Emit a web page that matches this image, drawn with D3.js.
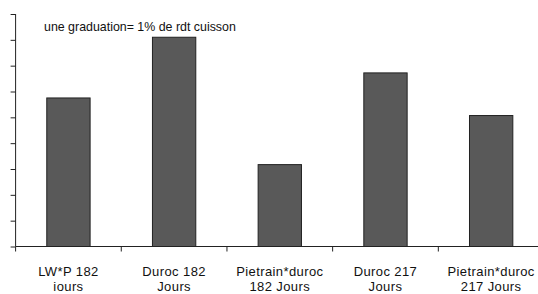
<!DOCTYPE html>
<meta charset="utf-8">
<style>
  body { margin: 0; background: #fff; }
  text { font-family: "Liberation Sans", Arial, sans-serif; fill: #111; }
</style>
<div id="chart"></div>
<script src="https://d3js.org/d3.v7.min.js"></script>
<script>
// bar labels (two lines each) and values
var labelsTop = ["LW*P 182", "Duroc 182", "Pietrain*duroc", "Duroc 217", "Pietrain*duroc"];
var labelsBottom = ["iours", "Jours", "182 Jours", "Jours", "217 Jours"];
var values = [5.75, 8.1, 3.17, 6.72, 5.07];
var yTicks = [0, 1, 2, 3, 4, 5, 6, 7, 8, 9];
var note = "une graduation= 1% de rdt cuisson";

var W = 538, H = 294;
var x0 = 15.6, xEnd = 544, y0 = 246.5, yTop = 14;

var svg = d3.select("#chart").append("svg")
  .attr("width", W)
  .attr("height", H);

var x = d3.scaleBand()
  .domain(d3.range(values.length))
  .range([x0, xEnd])
  .paddingInner(0.59)
  .paddingOuter(0.295);

var y = d3.scaleLinear()
  .domain([0, 9])
  .range([y0, yTop]);

// bars
svg.selectAll("rect.bar")
  .data(values)
  .enter()
  .append("rect")
    .attr("class", "bar")
    .attr("x", function(d, i) { return x(i); })
    .attr("y", function(d) { return y(d); })
    .attr("width", x.bandwidth())
    .attr("height", function(d) { return y0 - y(d); })
    .style("fill", "#595959")
    .style("stroke", "#222")
    .style("stroke-width", 1);

// y axis, ticks only
var yAxis = svg.append("g")
  .attr("transform", "translate(" + x0 + ",0)")
  .call(d3.axisLeft(y).tickValues(yTicks).tickSize(5).tickFormat(""));
yAxis.select(".domain").attr("d", "M0," + yTop + "V" + y0).attr("stroke", "#222");
yAxis.selectAll(".tick line").attr("stroke", "#222");

// x axis with ticks at category boundaries
var step = x.step();
var bounds = d3.range(values.length + 1).map(function(i) { return x0 + i * step; });
var xAxis = svg.append("g");
xAxis.append("line")
  .attr("x1", x0).attr("x2", W)
  .attr("y1", y0).attr("y2", y0)
  .attr("stroke", "#222");
xAxis.selectAll("line.tk")
  .data(bounds)
  .enter()
  .append("line")
    .attr("class", "tk")
    .attr("x1", function(d) { return d; })
    .attr("x2", function(d) { return d; })
    .attr("y1", y0)
    .attr("y2", y0 + 5)
    .attr("stroke", "#222");

// category labels
var lab = svg.selectAll("text.lab")
  .data(values)
  .enter()
  .append("text")
    .attr("class", "lab")
    .attr("text-anchor", "middle")
    .style("font-size", "13px")
    .style("letter-spacing", "0.4px");
lab.append("tspan")
  .attr("x", function(d, i) { return x(i) + x.bandwidth() / 2; })
  .attr("y", 276)
  .text(function(d, i) { return labelsTop[i]; });
lab.append("tspan")
  .attr("x", function(d, i) { return x(i) + x.bandwidth() / 2; })
  .attr("y", 291)
  .text(function(d, i) { return labelsBottom[i]; });

// note
svg.append("text")
  .attr("x", 44)
  .attr("y", 31)
  .style("font-size", "12.4px")
  .text(note);
</script>
